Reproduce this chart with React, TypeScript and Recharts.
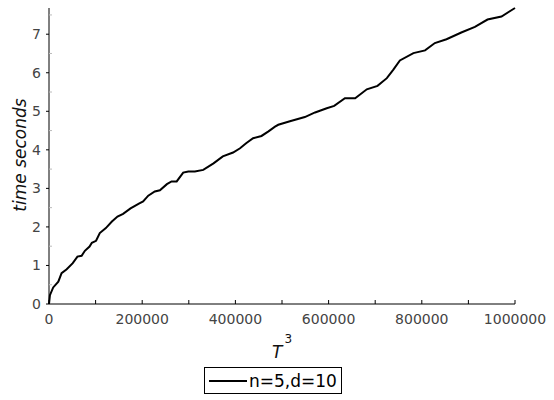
import { LineChart, Line, XAxis, YAxis, Legend } from "recharts";

const cubes = [
  0, 2000, 9000, 20000, 27000, 38000, 51000, 61000, 70000, 77000, 87000, 92000,
  101000, 109000, 122000, 135000, 147000, 159000, 175000, 192000, 202000, 213000,
  227000, 238000, 253000, 263000, 274000, 288000, 299000, 313000, 331000, 353000,
  373000, 395000, 410000, 423000, 438000, 456000, 471000, 485000, 492000, 517000,
  549000, 571000, 596000, 612000, 635000, 657000, 682000, 705000, 725000, 739000,
  753000, 782000, 807000, 828000, 853000, 886000, 914000, 941000, 971000, 1000000,
];
const seconds = [
  0, 0.23, 0.43, 0.58, 0.8, 0.9, 1.06, 1.23, 1.25, 1.38, 1.49, 1.59,
  1.64, 1.84, 1.97, 2.14, 2.27, 2.34, 2.48, 2.6, 2.66, 2.81,
  2.92, 2.95, 3.11, 3.18, 3.18, 3.41, 3.44, 3.44, 3.48, 3.65,
  3.83, 3.93, 4.04, 4.17, 4.3, 4.36, 4.48, 4.6, 4.65, 4.74,
  4.85, 4.97, 5.08, 5.14, 5.34, 5.34, 5.57, 5.66, 5.86, 6.08,
  6.32, 6.51, 6.58, 6.77, 6.87, 7.05, 7.19, 7.38, 7.46, 7.68,
];
const xTicks = [0, 100000, 200000, 300000, 400000, 500000, 600000, 700000, 800000, 900000, 1000000];
const yTicks = [0, 0.5, 1, 1.5, 2, 2.5, 3, 3.5, 4, 4.5, 5, 5.5, 6, 6.5, 7, 7.5];
const seriesName = "n=5,d=10";

const data = cubes.map((t, i) => ({ t, sec: seconds[i] }));

const font = "'DejaVu Sans', Verdana, sans-serif";

function XTick({ x, y, payload }: any) {
  const major = payload.value % 200000 === 0;
  return (
    <g>
      <line x1={x} x2={x} y1={y} y2={y - 4} stroke="#000" />
      {major && (
        <text x={x} y={y + 20} textAnchor="middle" fontSize={14} fontFamily={font} fill="#444">
          {payload.value}
        </text>
      )}
    </g>
  );
}

function YTick({ x, y, payload }: any) {
  const major = Number.isInteger(payload.value);
  if (!major) {
    return <line x1={x} x2={x + 3} y1={y} y2={y} stroke="#bbb" />;
  }
  return (
    <g>
      <line x1={x - 3} x2={x} y1={y} y2={y} stroke="#000" />
      <text x={x - 8} y={y + 5} textAnchor="end" fontSize={14} fontFamily={font} fill="#444">
        {payload.value}
      </text>
    </g>
  );
}

function XLabel({ viewBox }: any) {
  const left = viewBox.x + viewBox.width / 2 - 10;
  return (
    <text x={left} y={358} textAnchor="start" fontFamily={font} fill="#111">
      <tspan fontSize={17} fontStyle="italic">T</tspan>
      <tspan fontSize={12} dx={2} dy={-15}>3</tspan>
    </text>
  );
}

function YLabel() {
  return (
    <text
      x={26}
      y={155}
      transform="rotate(-90 26 155)"
      textAnchor="middle"
      fontSize={17}
      fontStyle="italic"
      fontFamily={font}
      fill="#111"
    >
      time seconds
    </text>
  );
}

function LegendBox() {
  return (
    <div
      style={{
        border: "1px solid #000",
        height: 25,
        display: "flex",
        alignItems: "center",
        padding: "0 4px",
        background: "#fff",
        fontFamily: font,
        fontSize: 17,
        color: "#000",
        whiteSpace: "nowrap",
      }}
    >
      <span style={{ display: "inline-block", width: 38, borderTop: "2px solid #000", marginRight: 2 }} />
      {seriesName}
    </div>
  );
}

export default function App() {
  return (
    <div style={{ position: "absolute", left: 0, top: 0, width: 554, height: 400, background: "#fff" }}>
      <LineChart width={554} height={400} data={data} margin={{ top: 8, right: 39, bottom: 0, left: 0 }}>
        <XAxis
          dataKey="t"
          type="number"
          domain={[0, 1000000]}
          ticks={xTicks}
          interval={0}
          height={96}
          tickSize={0}
          tickMargin={0}
          tickLine={false}
          tick={<XTick />}
          stroke="#000"
          label={<XLabel />}
        />
        <YAxis
          type="number"
          domain={[0, 7.68]}
          ticks={yTicks}
          interval={0}
          width={49}
          tickSize={0}
          tickMargin={0}
          tickLine={false}
          tick={<YTick />}
          stroke="#000"
          label={<YLabel />}
        />
        <Legend
          layout="horizontal"
          verticalAlign="middle"
          align="center"
          content={<LegendBox />}
          wrapperStyle={{ position: "absolute", left: 204, top: 367, width: "auto" }}
        />
        <Line
          dataKey="sec"
          name={seriesName}
          type="linear"
          stroke="#000"
          strokeWidth={2}
          dot={false}
          isAnimationActive={false}
        />
      </LineChart>
    </div>
  );
}
